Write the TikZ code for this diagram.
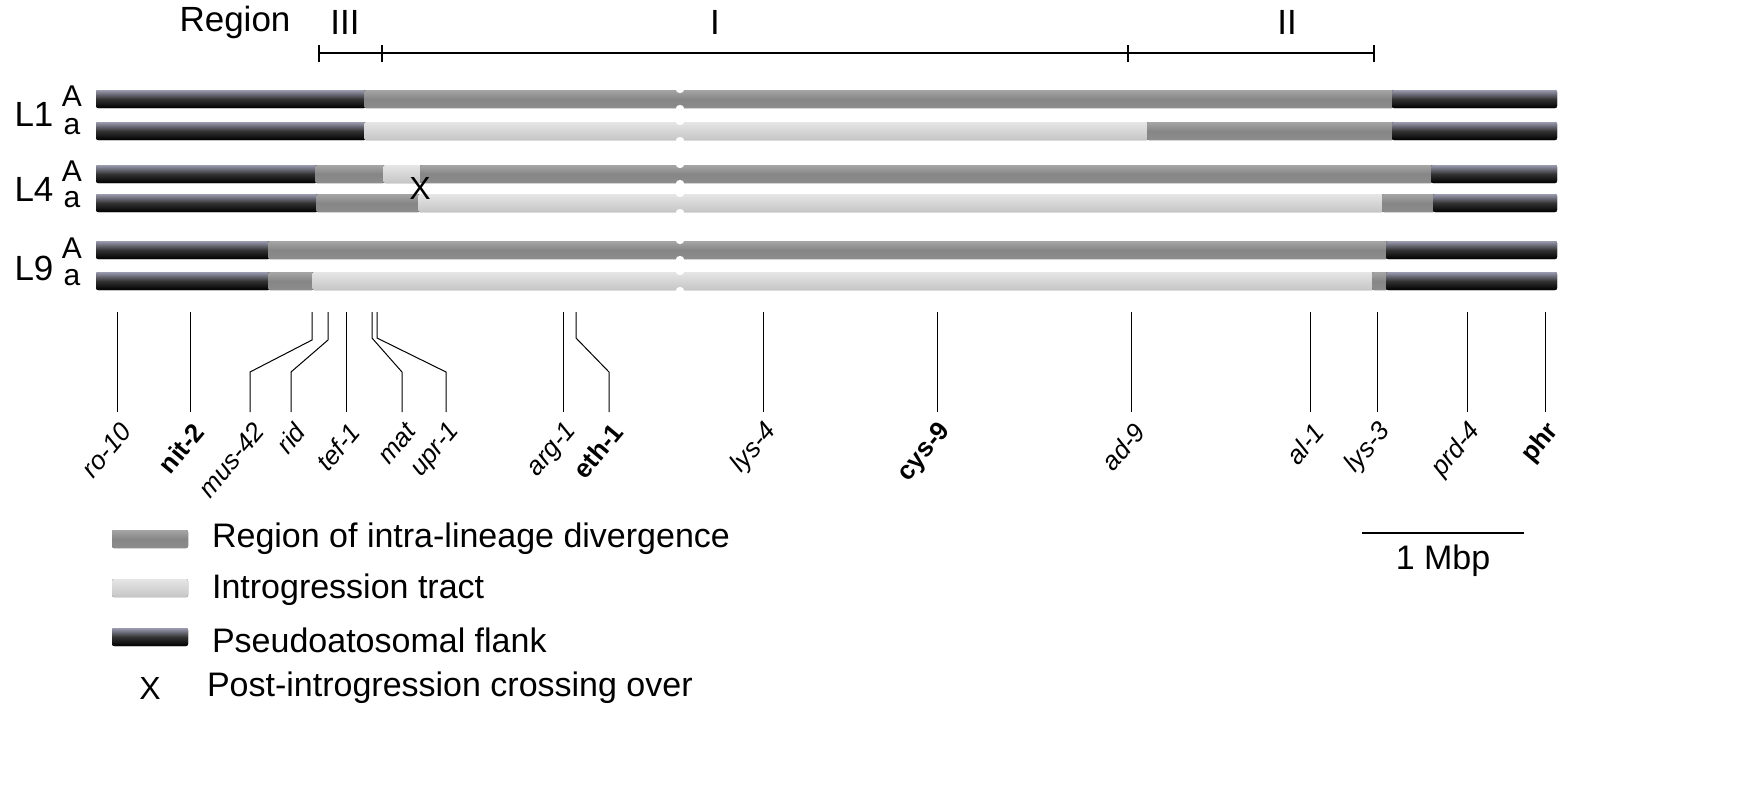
\documentclass[tikz,border=0pt]{standalone}
\usepackage{fontspec}
\setmainfont{Liberation Sans}
\begin{document}
\begin{tikzpicture}[x=0.5pt,y=-0.5pt,
  dk/.style={top color=gray!60!blue!30!gray!70,bottom color=black,draw=none,middle color=black!80},
  md/.style={top color=gray!70,bottom color=gray!110!black,middle color=gray!95,draw=none},
  lt/.style={top color=gray!20,bottom color=gray!45,draw=none},
  tick/.style={line width=0.6pt},
  gl/.style={line width=0.5pt},
  gene/.style={font=\fontsize{13}{14}\selectfont\itshape,rotate=50,anchor=east,inner sep=0.5pt},
  bgene/.style={gene,font=\fontsize{13}{14}\selectfont\bfseries},
  lbl/.style={font=\fontsize{17.5}{19}\selectfont},
  ab/.style={font=\fontsize{15}{16}\selectfont},
  leg/.style={font=\fontsize{17}{19}\selectfont,anchor=west}]
\useasboundingbox (0,0) rectangle (1755,800);
% Region header
\node[lbl] (reg) at (235,22) {Region};
\node[lbl] (r3) at (345,22) {III};
\node[lbl] (r1) at (715,22) {I};
\node[lbl] (r2) at (1287,22) {II};
\draw[tick] (319,53) -- (1374,53);
\foreach \x in {319,382,1128,1374} \draw[tick] (\x,45) -- (\x,62);
\newcommand{\seg}[4]{\fill[#4,rounded corners=1pt] (#1,#3-9) rectangle (#2,#3+9);}
% L1A
\seg{96}{366}{99}{dk}\seg{364}{1394}{99}{md}\seg{1392}{1557}{99}{dk}
% L1a
\seg{96}{366}{131}{dk}\seg{364}{1149}{131}{lt}\seg{1147}{1394}{131}{md}\seg{1392}{1557}{131}{dk}
% L4A
\seg{96}{317}{174}{dk}\seg{315}{385}{174}{md}\seg{383}{422}{174}{lt}\seg{420}{1433}{174}{md}\seg{1431}{1557}{174}{dk}
% L4a
\seg{96}{318}{203}{dk}\seg{316}{420}{203}{md}\seg{418}{1384}{203}{lt}\seg{1382}{1435}{203}{md}\seg{1433}{1557}{203}{dk}
% L9A
\seg{96}{270}{250}{dk}\seg{268}{1388}{250}{md}\seg{1386}{1557}{250}{dk}
% L9a
\seg{96}{270}{281}{dk}\seg{268}{314}{281}{md}\seg{312}{1374}{281}{lt}\seg{1372}{1388}{281}{md}\seg{1386}{1557}{281}{dk}
% centromere notches
\foreach \y in {99,131,174,203,250,281}{
  \fill[white] (680,\y-9) ellipse (4 and 3);
  \fill[white] (680,\y+9) ellipse (4 and 3);}
% lineage labels
\node[lbl] (l1) at (34,114) {L1};
\node[ab] (l1A) at (72,96) {A};
\node[ab] (l1a) at (72,127) {a};
\node[lbl] (l4) at (34,189) {L4};
\node[ab] (l4A) at (72,171) {A};
\node[ab] (l4a) at (72,200) {a};
\node[lbl] (l9) at (34,268) {L9};
\node[ab] (l9A) at (72,248) {A};
\node[ab] (l9a) at (72,278) {a};
\node[font=\fontsize{16}{17}\selectfont] (xx) at (420,188) {X};
% gene ticks
\foreach \x in {117,190,346,563,763,937,1131,1310,1377,1467,1545}
  \draw[gl] (\x,312) -- (\x,412);
\draw[gl] (312,312) -- (312,340) -- (250,372) -- (250,412);
\draw[gl] (328,312) -- (328,340) -- (291,372) -- (291,412);
\draw[gl] (372,312) -- (372,338) -- (402,372) -- (402,412);
\draw[gl] (377,312) -- (377,338) -- (446,372) -- (446,412);
\draw[gl] (576,312) -- (576,338) -- (609,372) -- (609,412);
% gene labels
\node[gene] (g1) at (127,426) {ro-10};
\node[bgene] (g2) at (200,426) {nit-2};
\node[gene] (g3) at (260,426) {mus-42};
\node[gene] (g4) at (301,426) {rid};
\node[gene] (g5) at (356,426) {tef-1};
\node[gene] (g6) at (412,426) {mat};
\node[gene] (g7) at (456,426) {upr-1};
\node[gene] (g8) at (573,426) {arg-1};
\node[bgene] (g9) at (619,426) {eth-1};
\node[gene] (g10) at (773,426) {lys-4};
\node[bgene] (g11) at (947,426) {cys-9};
\node[gene] (g12) at (1141,426) {ad-9};
\node[gene] (g13) at (1320,426) {al-1};
\node[gene] (g14) at (1387,426) {lys-3};
\node[gene] (g15) at (1477,426) {prd-4};
\node[bgene] (g16) at (1555,426) {phr};
% legend
\seg{112}{188}{539}{md}
\seg{112}{188}{588}{lt}
\seg{112}{188}{637}{dk}
\node[font=\fontsize{16}{17}\selectfont] (lx) at (150,688) {X};
\node[leg] (t1) at (205,539) {Region of intra-lineage divergence};
\node[leg] (t2) at (205,590) {Introgression tract};
\node[leg] (t3) at (205,640) {Pseudoatosomal flank};
\node[leg] (t4) at (200,688) {Post-introgression crossing over};
% scale bar
\coordinate (s1) at (1362,533); \coordinate (s2) at (1524,533);
\draw[line width=0.75pt] (s1) -- (s2);
\node[font=\fontsize{17}{18}\selectfont] (sb) at (1443,561) {1 Mbp};
\end{tikzpicture}
\end{document}
